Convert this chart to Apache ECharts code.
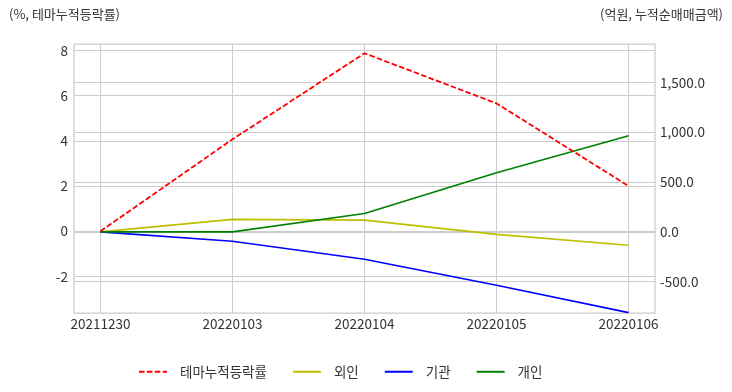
<!DOCTYPE html>
<html><head><meta charset="utf-8">
<script src="https://cdn.jsdelivr.net/npm/echarts@6/dist/echarts.min.js"></script>
<style>html,body{margin:0;padding:0;background:#fff}#c{width:732px;height:392px}</style>
</head><body><div id="c"></div>
<script>
const categories = ['20211230','20220103','20220104','20220105','20220106'];
const themeReturn = [0, 4.07, 7.88, 5.66, 2.0];
const foreign = [0, 125, 118, -25, -134];
const institution = [0, -94, -275, -536, -811];
const individual = [0, 0, 185, 594, 966];
const leftTicks = [-2, 0, 2, 4, 6, 8];
const rightTicks = [-500, 0, 500, 1000, 1500];
const seriesNames = ['테마누적등락률', '외인', '기관', '개인'];

const font = "'Noto Sans CJK KR', 'Noto Sans', sans-serif";
const textColor = '#333333';
const gridColor = '#cccccc';
const pairs = arr => arr.map((v, i) => [i, v]);

const chart = echarts.init(document.getElementById('c'), null, {renderer: 'canvas'});
chart.setOption({
  animation: false,
  textStyle: {fontFamily: font},
  grid: {left: 74, right: 77, top: 44, bottom: 79, show: true, borderColor: gridColor, borderWidth: 1.25, containLabel: false},
  graphic: [
    {type: 'text', left: 9, top: 8, style: {text: '(%, 테마누적등락률)', font: '13px ' + font, fill: textColor}},
    {type: 'text', right: 9, top: 8, style: {text: '(억원, 누적순매매금액)', font: '13px ' + font, fill: textColor}}
  ],
  legend: {
    top: 360, left: 133, itemWidth: 28, itemHeight: 10, itemGap: 25,
    itemStyle: {opacity: 0},
    textStyle: {fontFamily: font, fontSize: 13.5, color: textColor, padding: [0, 0, 0, 8]},
    data: seriesNames
  },
  xAxis: {
    type: 'value', min: -0.2, max: 4.2,
    axisLine: {show: false},
    axisTick: {show: false, customValues: [0, 1, 2, 3, 4]},
    splitLine: {show: true, lineStyle: {color: gridColor, width: 1}},
    axisLabel: {customValues: [0, 1, 2, 3, 4], formatter: v => categories[Math.round(v)], color: textColor, fontSize: 13.5, margin: 4, fontFamily: font}
  },
  yAxis: [
    {
      type: 'value', min: -3.62, max: 8.29, position: 'left',
      axisLine: {show: false},
      axisTick: {show: false, customValues: leftTicks},
      splitLine: {show: true, lineStyle: {color: gridColor, width: 1}},
      axisLabel: {customValues: leftTicks, color: textColor, fontSize: 13.5, margin: 6, fontFamily: font}
    },
    {
      type: 'value', min: -815, max: 1888, position: 'right',
      axisLine: {show: false},
      axisTick: {show: false, customValues: rightTicks},
      splitLine: {show: true, lineStyle: {color: gridColor, width: 1}},
      axisLabel: {customValues: rightTicks, color: textColor, fontSize: 13.5, margin: 5, fontFamily: font,
        formatter: v => v.toLocaleString('en-US', {minimumFractionDigits: 1, maximumFractionDigits: 1})}
    }
  ],
  series: [
    {name: seriesNames[0], type: 'line', yAxisIndex: 0, data: pairs(themeReturn), symbol: 'none', color: '#ff0000', lineStyle: {color: '#ff0000', width: 1.8, type: [5.5, 2.4]}, z: 5},
    {name: seriesNames[1], type: 'line', yAxisIndex: 1, data: pairs(foreign), symbol: 'none', color: '#bfbf00', lineStyle: {color: '#bfbf00', width: 1.7}},
    {name: seriesNames[2], type: 'line', yAxisIndex: 1, data: pairs(institution), symbol: 'none', color: '#0000ff', lineStyle: {color: '#0000ff', width: 1.7}},
    {name: seriesNames[3], type: 'line', yAxisIndex: 1, data: pairs(individual), symbol: 'none', color: '#008000', lineStyle: {color: '#008000', width: 1.7}}
  ]
});
</script></body></html>
